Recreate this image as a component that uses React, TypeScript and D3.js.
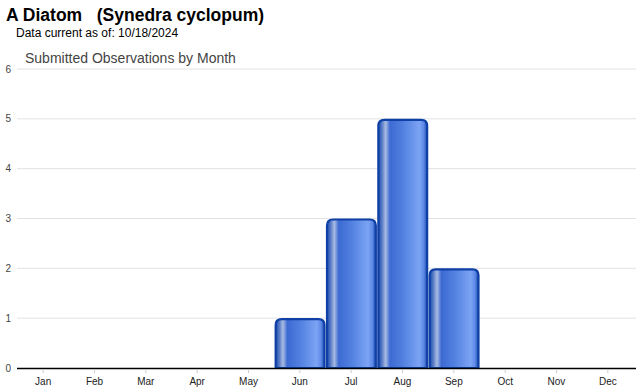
import * as d3 from 'd3';
import { useEffect, useRef } from 'react';

const months = ['Jan', 'Feb', 'Mar', 'Apr', 'May', 'Jun', 'Jul', 'Aug', 'Sep', 'Oct', 'Nov', 'Dec'];
const counts = [0, 0, 0, 0, 0, 1, 3, 5, 2, 0, 0, 0];
const yTicks = [0, 1, 2, 3, 4, 5, 6];

export default function App() {
  const ref = useRef<SVGSVGElement>(null);

  useEffect(() => {
    const width = 640;
    const height = 390;
    const left = 17;
    const right = 636;
    const top = 69;
    const bottom = 368;

    const svg = d3.select(ref.current);
    svg.selectAll('*').remove();
    svg.attr('width', width).attr('height', height).style('font-family', 'Arial, "Liberation Sans", sans-serif');

    /* ---------- GRADIENT ---------- */
    const grad = svg
      .append('defs')
      .append('linearGradient')
      .attr('id', 'barGrad')
      .attr('x1', '0%')
      .attr('x2', '100%');
    [
      [0, '#1a4aae'],
      [0.07, '#5478c4'],
      [0.15, '#a8bbe2'],
      [0.24, '#3c6ad2'],
      [0.5, '#5180e0'],
      [0.84, '#7ca4f4'],
      [0.93, '#5d88e6'],
      [1, '#1a4aae'],
    ].forEach(([o, c]) => grad.append('stop').attr('offset', o as number).attr('stop-color', c as string));

    /* ---------- SCALES ---------- */
    const x = d3.scaleBand().domain(months).range([left, 634]).paddingInner(0).paddingOuter(0.01);
    const y = d3.scaleLinear().domain([0, 6]).range([bottom, top]);

    /* ---------- GRID ---------- */
    svg
      .selectAll('.grid')
      .data(yTicks.filter(t => t > 0))
      .enter()
      .append('line')
      .attr('x1', left)
      .attr('x2', right)
      .attr('y1', d => y(d))
      .attr('y2', d => y(d))
      .attr('stroke', '#e2e2e2')
      .attr('stroke-width', 1);

    svg
      .selectAll('.ylab')
      .data(yTicks)
      .enter()
      .append('text')
      .attr('x', 11)
      .attr('y', d => y(d) + 3.5)
      .attr('text-anchor', 'end')
      .attr('fill', '#444')
      .style('font-size', '10px')
      .text(d => d);

    /* ---------- BARS ---------- */
    const r = 6;
    svg
      .selectAll('.bar')
      .data(months.map((m, i) => ({ m, v: counts[i] })).filter(d => d.v > 0))
      .enter()
      .append('path')
      .attr('d', d => {
        const x0 = x(d.m)! + 1.5;
        const w = x.bandwidth() - 2.5;
        const y0 = y(d.v) + 1;
        const y1 = bottom;
        return `M${x0},${y1}V${y0 + r}Q${x0},${y0} ${x0 + r},${y0}H${x0 + w - r}Q${x0 + w},${y0} ${x0 + w},${y0 + r}V${y1}Z`;
      })
      .attr('fill', 'url(#barGrad)')
      .attr('stroke', '#0f40a6')
      .attr('stroke-width', 2.2);

    /* ---------- X AXIS ---------- */
    svg
      .append('line')
      .attr('x1', left)
      .attr('x2', right)
      .attr('y1', bottom + 0.5)
      .attr('y2', bottom + 0.5)
      .attr('stroke', '#000')
      .attr('stroke-width', 1.5);

    svg
      .selectAll('.xtick')
      .data(months)
      .enter()
      .append('line')
      .attr('x1', d => x(d)! + x.bandwidth() / 2)
      .attr('x2', d => x(d)! + x.bandwidth() / 2)
      .attr('y1', bottom + 1)
      .attr('y2', bottom + 5)
      .attr('stroke', '#ccc');

    svg
      .selectAll('.xlab')
      .data(months)
      .enter()
      .append('text')
      .attr('x', d => x(d)! + x.bandwidth() / 2)
      .attr('y', 385)
      .attr('text-anchor', 'middle')
      .attr('fill', '#222')
      .style('font-size', '10px')
      .text(d => d);

    /* ---------- TITLES ---------- */
    svg
      .append('text')
      .attr('x', 6)
      .attr('y', 21)
      .attr('fill', '#000')
      .style('font-size', '17.5px')
      .style('font-weight', 700)
      .style('white-space', 'pre')
      .text('A Diatom   (Synedra cyclopum)');

    svg
      .append('text')
      .attr('x', 16)
      .attr('y', 37)
      .attr('fill', '#000')
      .style('font-size', '12px')
      .text('Data current as of: 10/18/2024');

    svg
      .append('text')
      .attr('x', 25)
      .attr('y', 63)
      .attr('fill', '#444')
      .style('font-size', '14px')
      .text('Submitted Observations by Month');
  }, []);

  return (
    <div style={{ position: 'absolute', left: 0, top: 0 }}>
      <svg ref={ref} />
    </div>
  );
}
